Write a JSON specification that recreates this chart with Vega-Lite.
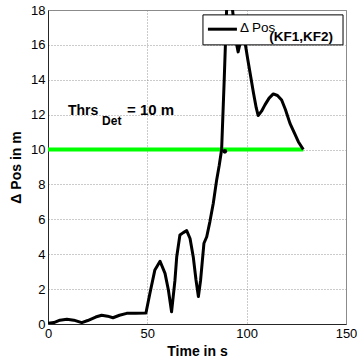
{
  "$schema": "https://vega.github.io/schema/vega-lite/v6.json",
  "autosize": {"type": "none"},
  "padding": {"left": 48, "top": 10, "right": 11, "bottom": 38},
  "width": 298,
  "height": 314,
  "background": "white",
  "config": {
    "font": "Liberation Sans",
    "view": {"stroke": "#8a8a8a", "strokeWidth": 1},
    "axis": {
      "labelFont": "Liberation Sans",
      "labelFontSize": 13,
      "labelColor": "#000",
      "titleFont": "Liberation Sans",
      "titleFontSize": 14,
      "titleFontWeight": "bold",
      "titleColor": "#000",
      "ticks": false,
      "domainColor": "#262626",
      "gridColor": "#8c8c8c",
      "gridDash": [1, 2],
      "gridOpacity": 0.9,
      "labelOverlap": false,
      "labelFlush": false
    }
  },
  "datasets": {
    "curve": [
      {"t": 0, "v": 0.04}, {"t": 3, "v": 0.08}, {"t": 6, "v": 0.22}, {"t": 9.5, "v": 0.27},
      {"t": 13, "v": 0.22}, {"t": 17, "v": 0.08}, {"t": 20, "v": 0.2}, {"t": 24, "v": 0.4},
      {"t": 27, "v": 0.5}, {"t": 30, "v": 0.45}, {"t": 32.7, "v": 0.36}, {"t": 36, "v": 0.5},
      {"t": 39.6, "v": 0.61}, {"t": 44, "v": 0.62}, {"t": 49.3, "v": 0.63}, {"t": 51.3, "v": 1.76},
      {"t": 53.8, "v": 3.1}, {"t": 56.4, "v": 3.6}, {"t": 58.9, "v": 2.9}, {"t": 60.6, "v": 1.95},
      {"t": 62.2, "v": 0.7}, {"t": 63.9, "v": 2.5}, {"t": 64.8, "v": 3.86}, {"t": 66.4, "v": 5.1},
      {"t": 68.1, "v": 5.24}, {"t": 69.8, "v": 5.35}, {"t": 71.5, "v": 4.9}, {"t": 73.1, "v": 3.86},
      {"t": 74.5, "v": 2.52}, {"t": 75.7, "v": 1.57}, {"t": 76.8, "v": 2.5}, {"t": 78.5, "v": 4.63},
      {"t": 79.9, "v": 5.0}, {"t": 81.5, "v": 5.87}, {"t": 83.2, "v": 6.92}, {"t": 84.9, "v": 8.26},
      {"t": 86.2, "v": 9.1}, {"t": 87.4, "v": 10.0}, {"t": 88.7, "v": 14.0}, {"t": 89.9, "v": 18.0},
      {"t": 91.0, "v": 19.3}, {"t": 92.0, "v": 19.0}, {"t": 92.9, "v": 18.0}, {"t": 94.5, "v": 16.3},
      {"t": 95.7, "v": 15.6}, {"t": 96.9, "v": 16.2}, {"t": 98.1, "v": 17.2}, {"t": 99.1, "v": 16.2},
      {"t": 100.5, "v": 15.2}, {"t": 102, "v": 14.2}, {"t": 103.5, "v": 13.2}, {"t": 104.8, "v": 12.4},
      {"t": 105.8, "v": 11.95}, {"t": 107.5, "v": 12.2}, {"t": 109.2, "v": 12.56}, {"t": 111.3, "v": 12.95},
      {"t": 113.4, "v": 13.19}, {"t": 115.5, "v": 13.1}, {"t": 117.6, "v": 12.84}, {"t": 119.5, "v": 12.3},
      {"t": 121.8, "v": 11.5}, {"t": 124, "v": 10.95}, {"t": 126, "v": 10.45}, {"t": 128.5, "v": 10.0}
    ],
    "threshold": [{"t": 0, "v": 10}, {"t": 128.5, "v": 10}],
    "detection": [{"t": 89, "v": 9.9}]
  },
  "layer": [
    {
      "data": {"name": "threshold"},
      "mark": {"type": "line", "color": "#00ff00", "strokeWidth": 4, "clip": true},
      "encoding": {
        "x": {"field": "t", "type": "quantitative", "scale": {"domain": [0, 150], "nice": false},
              "axis": {"title": "Time in s", "values": [0, 50, 100, 150], "labelPadding": 3, "titlePadding": 4}},
        "y": {"field": "v", "type": "quantitative", "scale": {"domain": [0, 18], "nice": false},
              "axis": {"title": "Δ Pos in m", "values": [0, 2, 4, 6, 8, 10, 12, 14, 16, 18], "labelPadding": 3, "titlePadding": 7}}
      }
    },
    {
      "data": {"name": "curve"},
      "mark": {"type": "line", "color": "#000", "strokeWidth": 3, "clip": true, "strokeJoin": "round"},
      "encoding": {
        "x": {"field": "t", "type": "quantitative",
              "axis": {"title": "Time in s", "values": [0, 50, 100, 150], "labelPadding": 3, "titlePadding": 4}},
        "y": {"field": "v", "type": "quantitative",
              "axis": {"title": "Δ Pos in m", "values": [0, 2, 4, 6, 8, 10, 12, 14, 16, 18], "labelPadding": 3, "titlePadding": 7}}
      }
    },
    {
      "data": {"name": "detection"},
      "mark": {"type": "point", "filled": true, "color": "#000", "size": 22, "opacity": 1},
      "encoding": {
        "x": {"field": "t", "type": "quantitative",
              "axis": {"title": "Time in s", "values": [0, 50, 100, 150], "labelPadding": 3, "titlePadding": 4}},
        "y": {"field": "v", "type": "quantitative",
              "axis": {"title": "Δ Pos in m", "values": [0, 2, 4, 6, 8, 10, 12, 14, 16, 18], "labelPadding": 3, "titlePadding": 7}}
      }
    },
    {
      "data": {"values": [{}]},
      "mark": {"type": "rect", "fill": "white", "stroke": "#000", "strokeWidth": 1},
      "encoding": {
        "x": {"datum": 78.0, "type": "quantitative",
              "axis": {"title": "Time in s", "values": [0, 50, 100, 150], "labelPadding": 3, "titlePadding": 4}},
        "x2": {"datum": 148.5},
        "y": {"datum": 17.72, "type": "quantitative",
              "axis": {"title": "Δ Pos in m", "values": [0, 2, 4, 6, 8, 10, 12, 14, 16, 18], "labelPadding": 3, "titlePadding": 7}},
        "y2": {"datum": 16.0}
      }
    },
    {
      "data": {"values": [{}]},
      "mark": {"type": "rule", "color": "#000", "strokeWidth": 3},
      "encoding": {
        "x": {"datum": 80.5, "type": "quantitative",
              "axis": {"title": "Time in s", "values": [0, 50, 100, 150], "labelPadding": 3, "titlePadding": 4}},
        "x2": {"datum": 95.1},
        "y": {"datum": 16.9, "type": "quantitative",
              "axis": {"title": "Δ Pos in m", "values": [0, 2, 4, 6, 8, 10, 12, 14, 16, 18], "labelPadding": 3, "titlePadding": 7}}
      }
    },
    {
      "data": {"values": [{}]},
      "mark": {"type": "text", "text": "Δ Pos", "align": "left", "baseline": "alphabetic", "fontSize": 13.5, "color": "#000", "font": "Liberation Sans"},
      "encoding": {
        "x": {"datum": 96.6, "type": "quantitative",
              "axis": {"title": "Time in s", "values": [0, 50, 100, 150], "labelPadding": 3, "titlePadding": 4}},
        "y": {"datum": 16.72, "type": "quantitative",
              "axis": {"title": "Δ Pos in m", "values": [0, 2, 4, 6, 8, 10, 12, 14, 16, 18], "labelPadding": 3, "titlePadding": 7}}
      }
    },
    {
      "data": {"values": [{}]},
      "mark": {"type": "text", "text": "(KF1,KF2)", "align": "left", "baseline": "alphabetic", "fontSize": 13.5, "fontWeight": "bold", "color": "#000", "font": "Liberation Sans"},
      "encoding": {
        "x": {"datum": 111.4, "type": "quantitative",
              "axis": {"title": "Time in s", "values": [0, 50, 100, 150], "labelPadding": 3, "titlePadding": 4}},
        "y": {"datum": 16.22, "type": "quantitative",
              "axis": {"title": "Δ Pos in m", "values": [0, 2, 4, 6, 8, 10, 12, 14, 16, 18], "labelPadding": 3, "titlePadding": 7}}
      }
    },
    {
      "data": {"values": [{}]},
      "mark": {"type": "text", "text": "Thrs", "align": "left", "baseline": "alphabetic", "fontSize": 14, "fontWeight": "bold", "color": "#000", "font": "Liberation Sans"},
      "encoding": {
        "x": {"datum": 10.07, "type": "quantitative",
              "axis": {"title": "Time in s", "values": [0, 50, 100, 150], "labelPadding": 3, "titlePadding": 4}},
        "y": {"datum": 11.98, "type": "quantitative",
              "axis": {"title": "Δ Pos in m", "values": [0, 2, 4, 6, 8, 10, 12, 14, 16, 18], "labelPadding": 3, "titlePadding": 7}}
      }
    },
    {
      "data": {"values": [{}]},
      "mark": {"type": "text", "text": "Det", "align": "left", "baseline": "alphabetic", "fontSize": 12, "fontWeight": "bold", "color": "#000", "font": "Liberation Sans"},
      "encoding": {
        "x": {"datum": 27.2, "type": "quantitative",
              "axis": {"title": "Time in s", "values": [0, 50, 100, 150], "labelPadding": 3, "titlePadding": 4}},
        "y": {"datum": 11.41, "type": "quantitative",
              "axis": {"title": "Δ Pos in m", "values": [0, 2, 4, 6, 8, 10, 12, 14, 16, 18], "labelPadding": 3, "titlePadding": 7}}
      }
    },
    {
      "data": {"values": [{}]},
      "mark": {"type": "text", "text": "= 10 m", "align": "left", "baseline": "alphabetic", "fontSize": 15, "fontWeight": "bold", "color": "#000", "font": "Liberation Sans"},
      "encoding": {
        "x": {"datum": 39.8, "type": "quantitative",
              "axis": {"title": "Time in s", "values": [0, 50, 100, 150], "labelPadding": 3, "titlePadding": 4}},
        "y": {"datum": 11.98, "type": "quantitative",
              "axis": {"title": "Δ Pos in m", "values": [0, 2, 4, 6, 8, 10, 12, 14, 16, 18], "labelPadding": 3, "titlePadding": 7}}
      }
    }
  ]
}
